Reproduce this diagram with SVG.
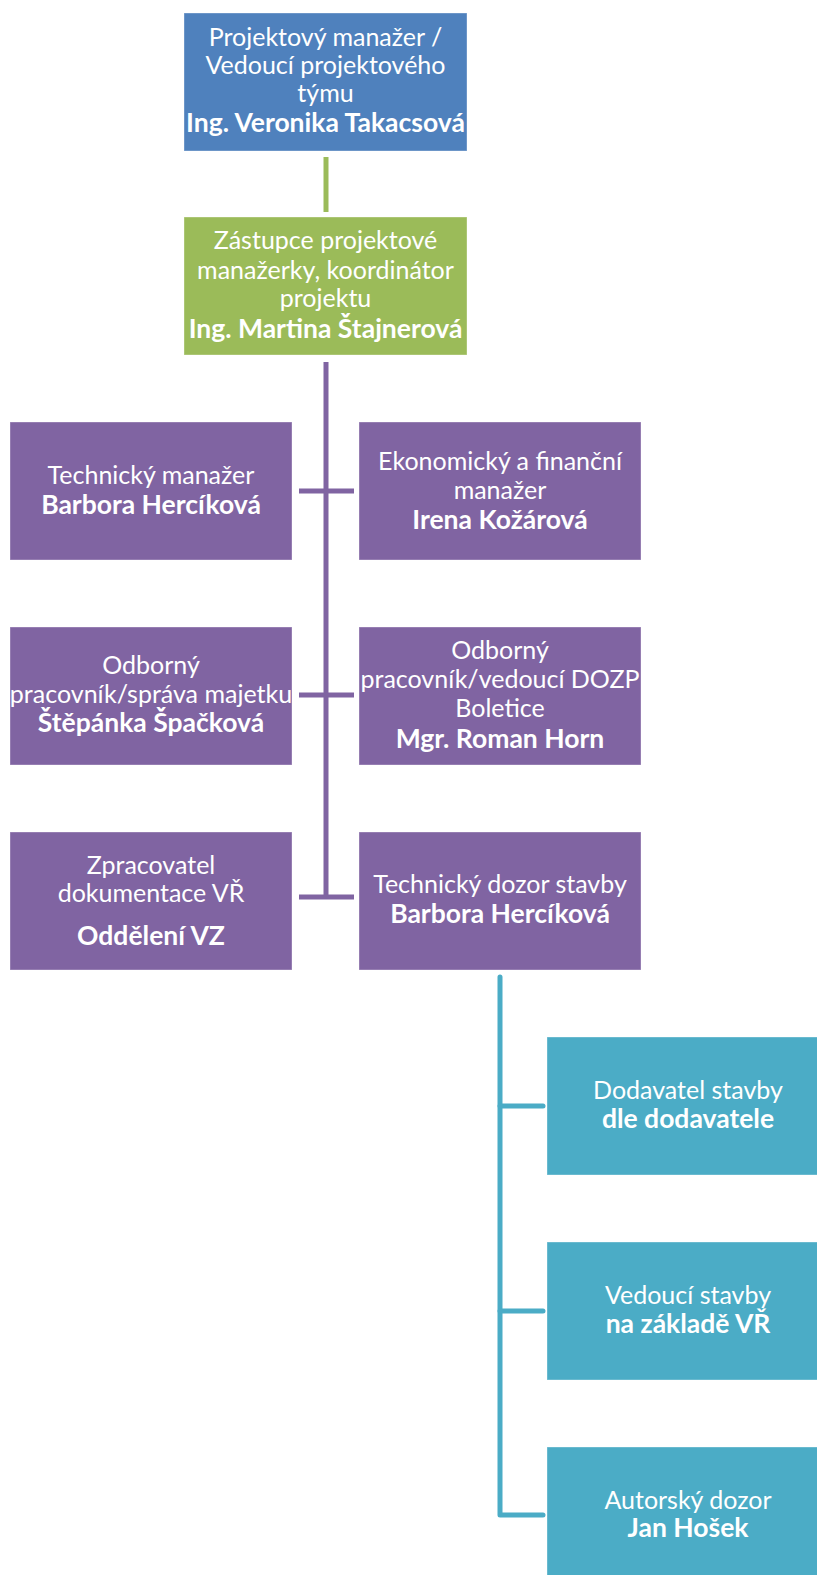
<svg xmlns="http://www.w3.org/2000/svg" width="817" height="1575" viewBox="0 0 817 1575">
<style>
.box{stroke:#ffffff;stroke-opacity:0.35;stroke-width:1}
.blue{fill:#4F81BD}.green{fill:#9BBB59}.purple{fill:#8064A2}.teal{fill:#4BACC6}
text{font-family:Lato,"Open Sans","Liberation Sans",sans-serif;font-size:25px;fill:#ffffff;text-anchor:middle}
.b{font-weight:bold;font-size:26.5px}
.lg{stroke:#9BBB59;stroke-width:5;fill:none}
.lp{stroke:#8064A2;stroke-width:5;fill:none}
.lt{stroke:#4BACC6;stroke-width:5;fill:none;stroke-linejoin:round;stroke-linecap:round}
</style>
<rect width="817" height="1575" fill="#ffffff"/>
<g id="connectors">
<line class="lg" x1="326" y1="157" x2="326" y2="212"/>
<line class="lp" x1="326" y1="362" x2="326" y2="899"/>
<line class="lp" x1="299" y1="491" x2="354" y2="491"/>
<line class="lp" x1="299" y1="695" x2="354" y2="695"/>
<line class="lp" x1="299" y1="897" x2="354" y2="897"/>
<path class="lt" d="M500 977 V1515 H543"/>
<line class="lt" x1="500" y1="1106" x2="543" y2="1106"/>
<line class="lt" x1="500" y1="1311" x2="543" y2="1311"/>
</g>
<g id="n_pm">
<rect class="box blue" x="184" y="13" width="283" height="138"/>
<text x="325.5" y="46">Projektový manažer /</text>
<text x="325.5" y="74">Vedoucí projektového</text>
<text x="325.5" y="102">týmu</text>
<text class="b" x="325.5" y="132">Ing. Veronika Takacsová</text>
</g>
<g id="n_zpm">
<rect class="box green" x="184" y="217" width="283" height="138"/>
<text x="325.5" y="249">Zástupce projektové</text>
<text x="325.5" y="279">manažerky, koordinátor</text>
<text x="325.5" y="307">projektu</text>
<text class="b" x="325.5" y="338">Ing. Martina Štajnerová</text>
</g>
<g id="n_tm">
<rect class="box purple" x="10" y="422" width="282" height="138"/>
<text x="151" y="484">Technický manažer</text>
<text class="b" x="151" y="514">Barbora Hercíková</text>
</g>
<g id="n_efm">
<rect class="box purple" x="359" y="422" width="282" height="138"/>
<text x="500" y="470">Ekonomický a finanční</text>
<text x="500" y="499">manažer</text>
<text class="b" x="500" y="529">Irena Kožárová</text>
</g>
<g id="n_op">
<rect class="box purple" x="10" y="627" width="282" height="138"/>
<text x="151" y="674">Odborný</text>
<text x="151" y="703">pracovník/správa majetku</text>
<text class="b" x="151" y="732">Štěpánka Špačková</text>
</g>
<g id="n_dozp">
<rect class="box purple" x="359" y="627" width="282" height="138"/>
<text x="500" y="659">Odborný</text>
<text x="500" y="688">pracovník/vedoucí DOZP</text>
<text x="500" y="717">Boletice</text>
<text class="b" x="500" y="748">Mgr. Roman Horn</text>
</g>
<g id="n_vr">
<rect class="box purple" x="10" y="832" width="282" height="138"/>
<text x="151" y="874">Zpracovatel</text>
<text x="151" y="902">dokumentace VŘ</text>
<text class="b" x="151" y="945">Oddělení VZ</text>
</g>
<g id="n_tds">
<rect class="box purple" x="359" y="832" width="282" height="138"/>
<text x="500" y="893">Technický dozor stavby</text>
<text class="b" x="500" y="923">Barbora Hercíková</text>
</g>
<g id="n_ds">
<rect class="box teal" x="547" y="1037" width="282" height="138"/>
<text x="688" y="1099">Dodavatel stavby</text>
<text class="b" x="688" y="1128">dle dodavatele</text>
</g>
<g id="n_vs">
<rect class="box teal" x="547" y="1242" width="282" height="138"/>
<text x="688" y="1304">Vedoucí stavby</text>
<text class="b" x="688" y="1333">na základě VŘ</text>
</g>
<g id="n_ad">
<rect class="box teal" x="547" y="1447" width="282" height="138"/>
<text x="688" y="1509">Autorský dozor</text>
<text class="b" x="688" y="1537">Jan Hošek</text>
</g>
</svg>
